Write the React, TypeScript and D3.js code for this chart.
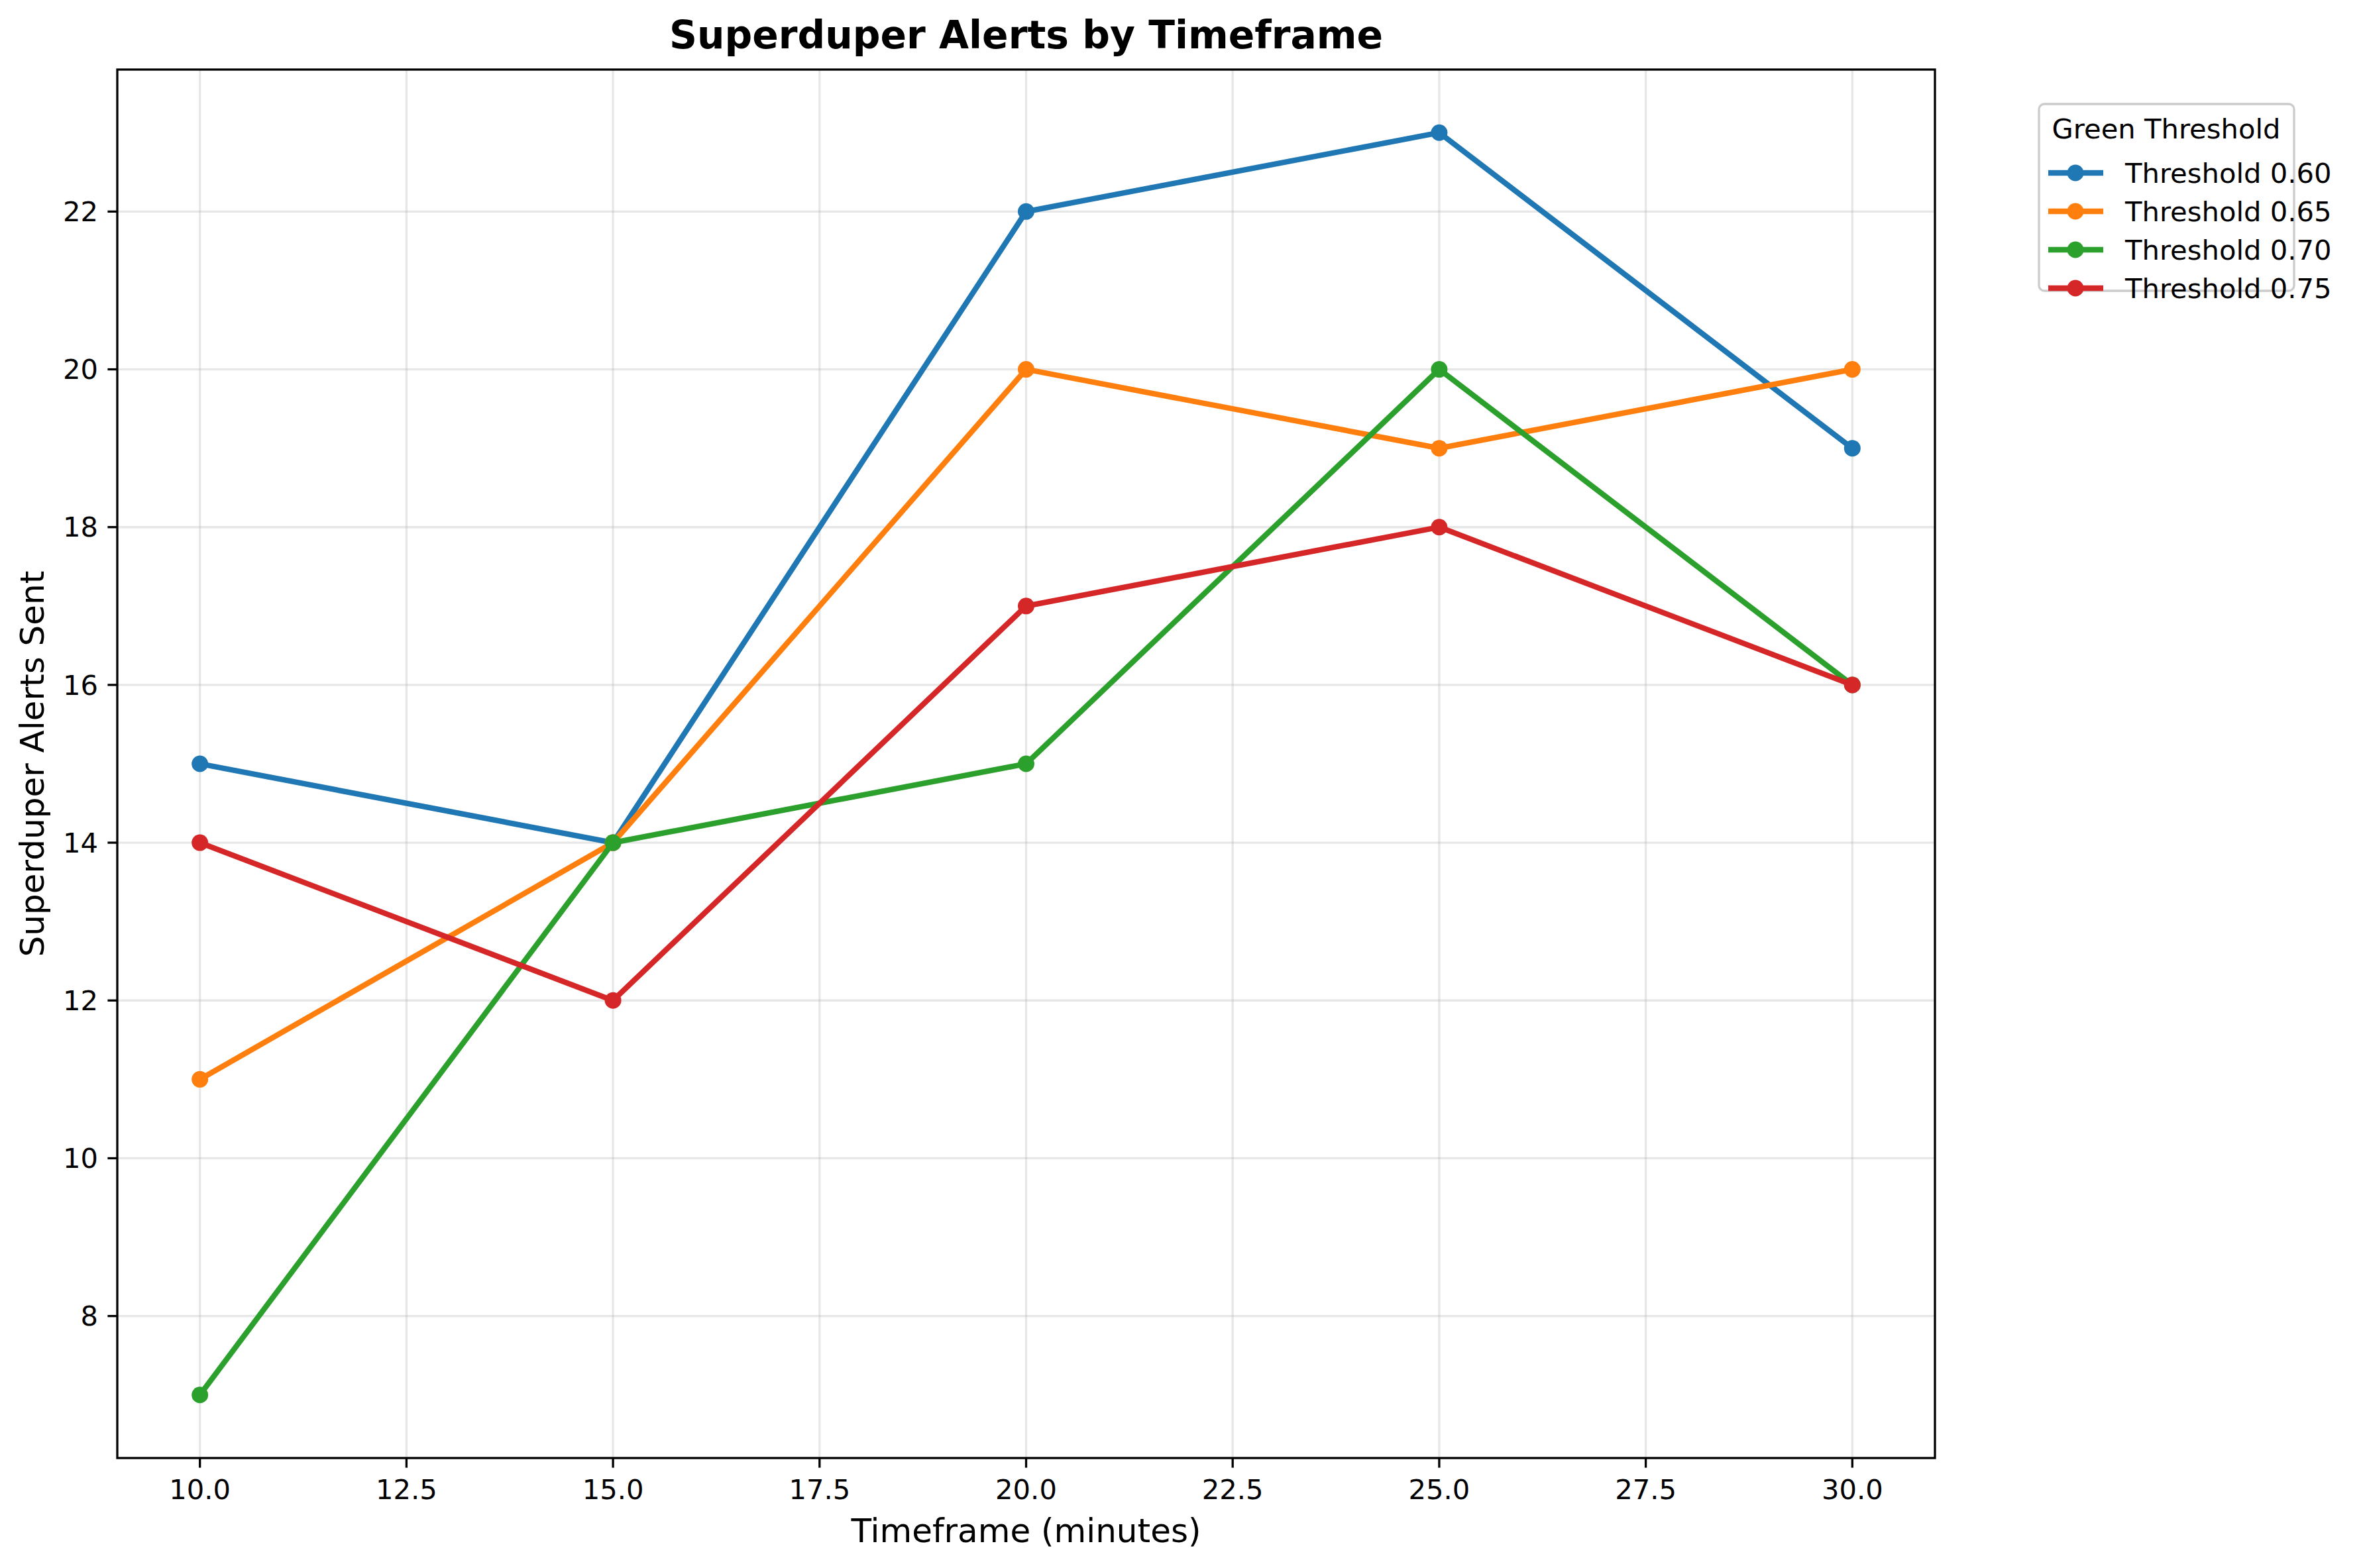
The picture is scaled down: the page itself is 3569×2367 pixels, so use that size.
import { scaleLinear, line as d3_line } from "d3";

const timeframes = [10, 15, 20, 25, 30];
const seriesNames = ["Threshold 0.60", "Threshold 0.65", "Threshold 0.70", "Threshold 0.75"];
const seriesColors = ["#1f77b4", "#ff7f0e", "#2ca02c", "#d62728"];
const t060 = [15, 14, 22, 23, 19];
const t065 = [11, 14, 20, 19, 20];
const t070 = [7, 14, 15, 20, 16];
const t075 = [14, 12, 17, 18, 16];
const allSeries = [t060, t065, t070, t075];
const xTicks = [10, 12.5, 15, 17.5, 20, 22.5, 25, 27.5, 30];
const yTicks = [8, 10, 12, 14, 16, 18, 20, 22];

const W = 3569, H = 2367;
const L = 177, R = 2920, T = 105, B = 2201;
const font = "DejaVu Sans, sans-serif";

export default function App() {
  const x = scaleLinear().domain([9, 31]).range([L, R]);
  const y = scaleLinear().domain([6.2, 23.8]).range([B, T]);
  const gen = d3_line<number>().x((_, i) => x(timeframes[i])).y((d) => y(d));

  return (
    <svg width={W} height={H} style={{ position: "absolute", left: 0, top: 0, background: "#fff" }} fontFamily={font}>
      {/* grid */}
      {xTicks.map((t) => (
        <line key={"gx" + t} x1={x(t)} x2={x(t)} y1={T} y2={B} stroke="#b0b0b0" strokeOpacity={0.3} strokeWidth={3.3} />
      ))}
      {yTicks.map((t) => (
        <line key={"gy" + t} x1={L} x2={R} y1={y(t)} y2={y(t)} stroke="#b0b0b0" strokeOpacity={0.3} strokeWidth={3.3} />
      ))}
      {/* series */}
      {allSeries.map((s, k) => (
        <g key={k}>
          <path d={gen(s) ?? ""} fill="none" stroke={seriesColors[k]} strokeWidth={8.3} strokeLinejoin="round" />
          {s.map((v, i) => (
            <circle key={i} cx={x(timeframes[i])} cy={y(v)} r={12.5} fill={seriesColors[k]} />
          ))}
        </g>
      ))}
      <rect x={L} y={T} width={R - L} height={B - T} fill="none" stroke="#000" strokeWidth={3.3} />
      {/* ticks */}
      {xTicks.map((t) => (
        <g key={"tx" + t}>
          <line x1={x(t)} x2={x(t)} y1={B} y2={B + 14.6} stroke="#000" strokeWidth={3.3} />
          <text x={x(t)} y={B + 62} fontSize={41.7} textAnchor="middle">{t.toFixed(1)}</text>
        </g>
      ))}
      {yTicks.map((t) => (
        <g key={"ty" + t}>
          <line x1={L - 14.6} x2={L} y1={y(t)} y2={y(t)} stroke="#000" strokeWidth={3.3} />
          <text x={L - 29} y={y(t)} dy="0.35em" fontSize={41.7} textAnchor="end">{t}</text>
        </g>
      ))}
      <text x={(L + R) / 2} y={73} fontSize={58.3} fontWeight="bold" textAnchor="middle">Superduper Alerts by Timeframe</text>
      <text x={(L + R) / 2} y={2328} fontSize={50} textAnchor="middle">Timeframe (minutes)</text>
      <text transform={`translate(66,${(T + B) / 2}) rotate(-90)`} fontSize={50} textAnchor="middle">Superduper Alerts Sent</text>
      {/* legend */}
      <g transform="translate(3077,157)">
        <rect width={385} height={282} rx={8} fill="#fff" stroke="#ccc" strokeWidth={3.3} />
        <text x={192} y={52} fontSize={41.7} textAnchor="middle">Green Threshold</text>
        {seriesNames.map((n, i) => (
          <g key={n} transform={`translate(0,${104 + i * 58})`}>
            <line x1={14} x2={97} y1={0} y2={0} stroke={seriesColors[i]} strokeWidth={8.3} />
            <circle cx={55} cy={0} r={12.5} fill={seriesColors[i]} />
            <text x={130} y={0} dy="0.35em" fontSize={41.7}>{n}</text>
          </g>
        ))}
      </g>
    </svg>
  );
}
